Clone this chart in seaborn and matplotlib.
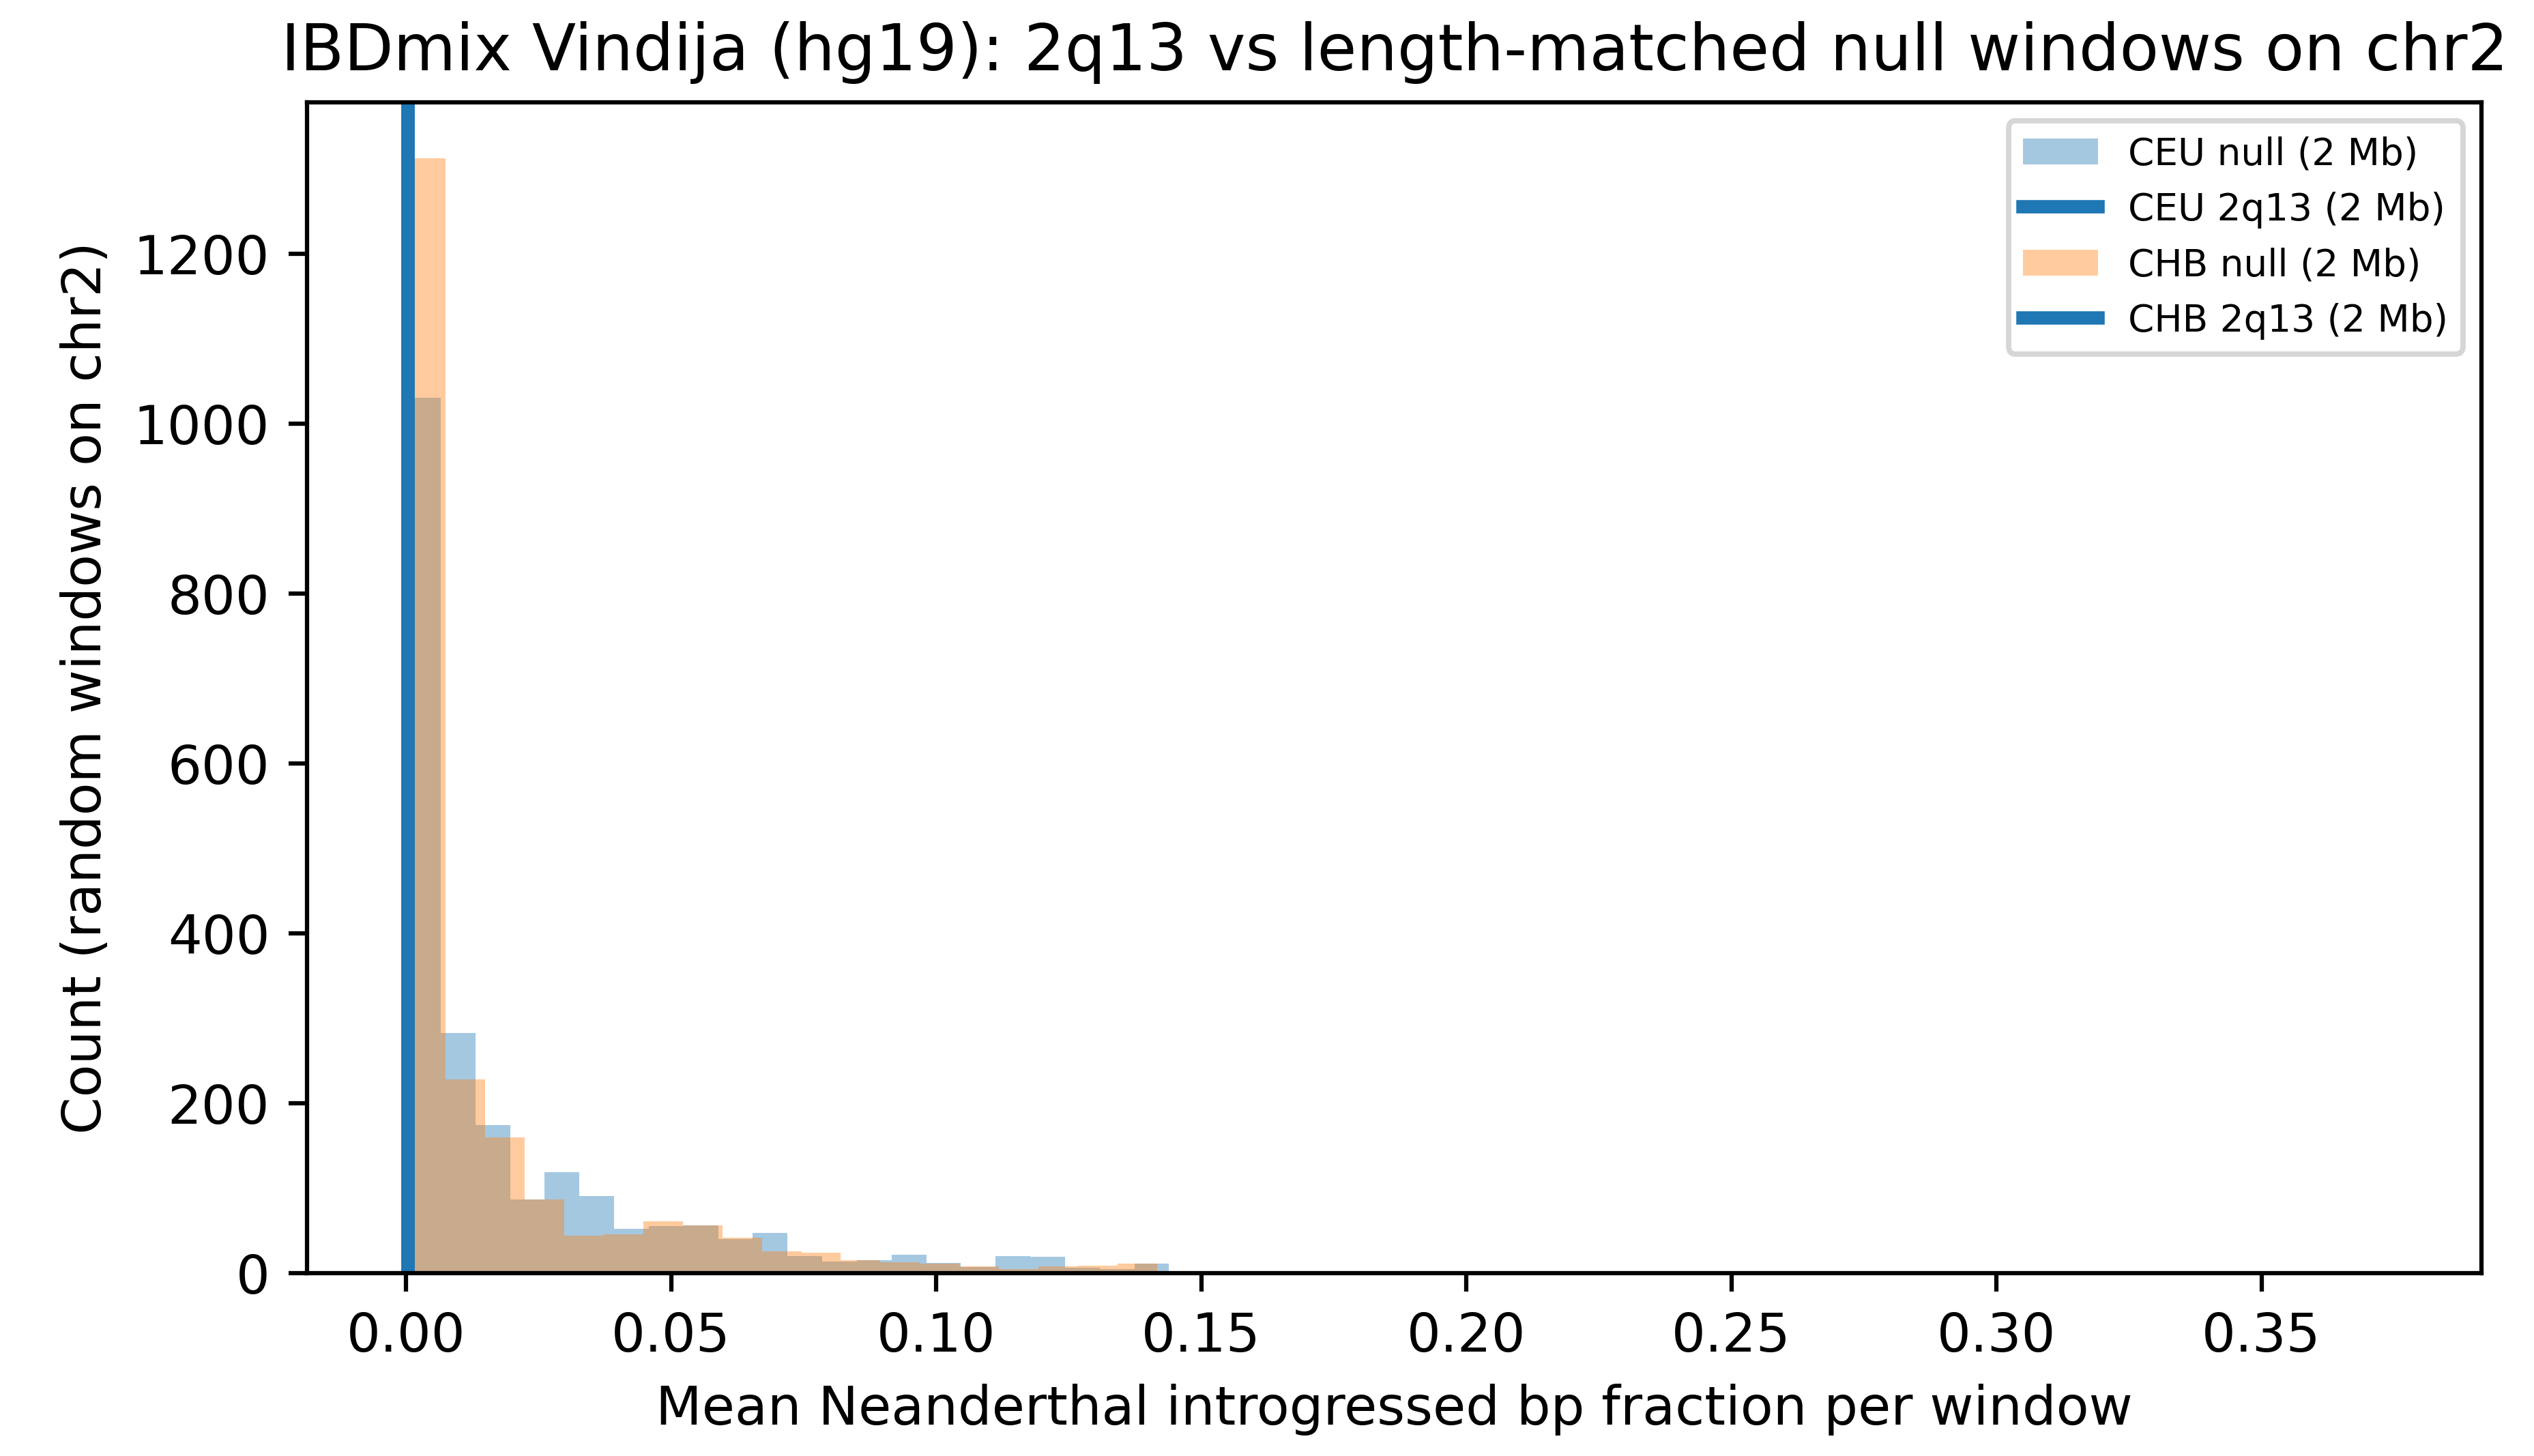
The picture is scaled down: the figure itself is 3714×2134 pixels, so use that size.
import numpy as np
import pandas as pd
import matplotlib
matplotlib.use('Agg')
import matplotlib.pyplot as plt
import seaborn as sns

# bin layout of the null window histograms (fraction range 0 .. x_max)
x_max = 0.3729
ceu_edges = np.linspace(0, x_max, 58)   # 57 bins
chb_edges = np.linspace(0, x_max, 51)   # 50 bins

# counts per bin
ceu_counts = [1031, 283, 174, 87, 119, 91, 52, 55, 56, 40,
              47, 20, 14, 15, 22, 12, 7, 20, 19, 6,
              5, 11, 0, 0, 0, 0, 0, 0, 0, 0,
              0, 0, 0, 0, 0, 0, 0, 0, 0, 0,
              1, 0, 0, 0, 0, 0, 1, 0, 0, 1,
              0, 0, 0, 0, 1, 0, 0]
chb_counts = [1313, 228, 160, 87, 44, 46, 61, 56, 42, 26,
              24, 15, 13, 11, 8, 5, 8, 9, 11, 0,
              0, 0, 0, 0, 0, 0, 0, 0, 0, 0,
              0, 0, 0, 0, 0, 0, 0, 0, 2, 0,
              0, 0, 0, 0, 0, 0, 0, 0, 0, 0]

# observed 2q13 values
ceu_2q13 = 0.0004
chb_2q13 = 0.0004

ceu_df = pd.DataFrame({'frac': (ceu_edges[:-1] + ceu_edges[1:]) / 2, 'n': ceu_counts})
chb_df = pd.DataFrame({'frac': (chb_edges[:-1] + chb_edges[1:]) / 2, 'n': chb_counts})

fig, ax = plt.subplots(figsize=(6.5855, 3.7839))
fig.subplots_adjust(left=0.1212, right=0.9793, top=0.9297, bottom=0.1256)

sns.histplot(data=ceu_df, x='frac', weights='n', bins=ceu_edges.tolist(), color='C0',
             alpha=0.4, linewidth=0, label='CEU null (2 Mb)', ax=ax)
ax.axvline(ceu_2q13, color='C0', lw=2.5, label='CEU 2q13 (2 Mb)')
sns.histplot(data=chb_df, x='frac', weights='n', bins=chb_edges.tolist(), color='C1',
             alpha=0.4, linewidth=0, label='CHB null (2 Mb)', ax=ax)
ax.axvline(chb_2q13, color='C0', lw=2.5, label='CHB 2q13 (2 Mb)')

ax.set_title('IBDmix Vindija (hg19): 2q13 vs length-matched null windows on chr2', fontsize=12)
ax.set_xlabel('Mean Neanderthal introgressed bp fraction per window')
ax.set_ylabel('Count (random windows on chr2)')

order = ['CEU null (2 Mb)', 'CEU 2q13 (2 Mb)', 'CHB null (2 Mb)', 'CHB 2q13 (2 Mb)']
h, l = ax.get_legend_handles_labels()
ax.legend([h[l.index(name)] for name in order], order, loc='upper right', fontsize=7)

plt.savefig('out.png', dpi=564)
plt.close()
